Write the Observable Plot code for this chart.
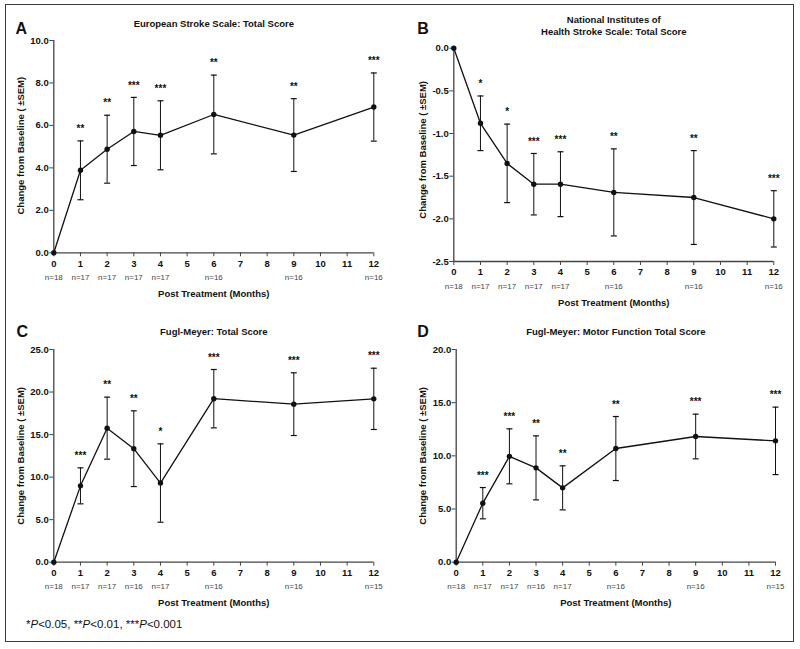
<!DOCTYPE html>
<html><head><meta charset="utf-8">
<script src="https://cdn.jsdelivr.net/npm/d3@7"></script>
<script src="https://cdn.jsdelivr.net/npm/@observablehq/plot@0.6"></script>
<style>
body{margin:0;background:#fff;}
#wrap{position:relative;width:800px;height:649px;overflow:hidden;background:#fff;font-family:"Liberation Sans",Arial,Helvetica,sans-serif;}
#frame{position:absolute;left:5px;top:4px;width:786.5px;height:636px;border:1.5px solid #3c3c3c;pointer-events:none;z-index:5;}
#note{position:absolute;left:26px;top:619.3px;font-size:11.5px;line-height:1;color:#111;z-index:6;white-space:nowrap;}
</style></head>
<body>
<div id="wrap"><div id="frame"></div><div id="note">*<i>P</i>&lt;0.05, **<i>P</i>&lt;0.01, ***<i>P</i>&lt;0.001</div></div>
<script>
// ---- data ----
const months = [0, 1, 2, 3, 4, 6, 9, 12];
const xTicks = [0, 1, 2, 3, 4, 5, 6, 7, 8, 9, 10, 11, 12];

const essTitle = "European Stroke Scale: Total Score";
const essMean = [0, 3.885, 4.88, 5.715, 5.535, 6.515, 5.545, 6.865];
const essSem = [0, 1.385, 1.60, 1.605, 1.625, 1.855, 1.715, 1.605];
const essStars = ["", "**", "**", "***", "***", "**", "**", "***"];
const essN = [18, 17, 17, 17, 17, 16, 16, 16];
const essTicks = [0, 2, 4, 6, 8, 10];

const nihTitle = "National Institutes of\nHealth Stroke Scale: Total Score";
const nihMean = [0, -0.88, -1.35, -1.594, -1.594, -1.69, -1.75, -2.0];
const nihSem = [0, 0.32, 0.46, 0.36, 0.38, 0.51, 0.55, 0.33];
const nihStars = ["", "*", "*", "***", "***", "**", "**", "***"];
const nihN = [18, 17, 17, 17, 17, 16, 16, 16];
const nihTicks = [0, -0.5, -1, -1.5, -2, -2.5];

const fmTitle = "Fugl-Meyer: Total Score";
const fmMean = [0, 8.975, 15.755, 13.34, 9.305, 19.22, 18.575, 19.2];
const fmSem = [0, 2.115, 3.645, 4.45, 4.605, 3.43, 3.685, 3.6];
const fmStars = ["", "***", "**", "**", "*", "***", "***", "***"];
const fmN = [18, 17, 17, 16, 17, 16, 16, 15];
const fmTicks = [0, 5, 10, 15, 20, 25];

const fmmTitle = "Fugl-Meyer: Motor Function Total Score";
const fmmMean = [0, 5.55, 9.955, 8.87, 6.99, 10.69, 11.82, 11.41];
const fmmSem = [0, 1.47, 2.585, 3.01, 2.07, 3.01, 2.1, 3.17];
const fmmStars = ["", "***", "***", "**", "**", "**", "***", "***"];
const fmmN = [18, 17, 17, 16, 17, 16, 16, 15];
const fmmTicks = [0, 5, 10, 15, 20];

const yLabel = "Change from Baseline ( \u00B1SEM)";
const xLabel = "Post Treatment (Months)";

// ---- drawing ----
const FONT = '"Liberation Sans", Arial, Helvetica, sans-serif';
const INK = "#111";
const cap = {draw(ctx, size) { const r = Math.sqrt(size / Math.PI); ctx.moveTo(-r, 0); ctx.lineTo(r, 0); }};

function panel(o) {
  const data = months.map((m, i) => ({
    m, v: o.mean[i],
    lo: o.mean[i] - o.sem[i], hi: o.mean[i] + o.sem[i],
    star: o.stars[i], n: "n=" + o.n[i]
  }));
  const bars = data.filter(d => d.m > 0);
  const svg = Plot.plot({
    width: o.w, height: o.h,
    marginLeft: o.mL, marginRight: o.mR, marginTop: o.mT, marginBottom: o.mB,
    x: {domain: [0, 12]},
    y: {domain: o.yDomain},
    style: {background: "transparent", fontFamily: FONT, color: INK, overflow: "visible"},
    marks: [
      Plot.axisX({ticks: xTicks, tickSize: 4, tickPadding: 3, fontSize: 9.5, fontWeight: "bold", stroke: "#444", fill: INK, label: null}),
      Plot.axisY({ticks: o.yTicks, tickSize: 4, tickPadding: 1, tickFormat: d => d.toFixed(1), fontSize: 9.5, fontWeight: "bold", stroke: "#444", fill: INK, label: null}),
      Plot.ruleY([o.yDomain[0]], {stroke: "#444", strokeWidth: 1.3}),
      Plot.ruleX([0], {stroke: "#444", strokeWidth: 1.3}),
      Plot.ruleX(bars, {x: "m", y1: "lo", y2: "hi", stroke: INK, strokeWidth: 1}),
      Plot.dot(bars, {x: "m", y: "hi", symbol: cap, r: 3, fill: "none", stroke: INK, strokeWidth: 1.2}),
      Plot.dot(bars, {x: "m", y: "lo", symbol: cap, r: 3, fill: "none", stroke: INK, strokeWidth: 1.2}),
      Plot.line(data, {x: "m", y: "v", stroke: INK, strokeWidth: 1.3}),
      Plot.dot(data, {x: "m", y: "v", r: 2.7, fill: INK, stroke: "none"}),
      Plot.text(bars, {x: "m", y: "hi", text: "star", dy: -12, fontSize: 10, fontWeight: "bold", fill: INK}),
      Plot.text(data, {x: "m", text: "n", frameAnchor: "bottom", lineAnchor: "bottom", dy: 27, fontSize: 8, fill: "#444"}),
      Plot.text([xLabel], {frameAnchor: "bottom", lineAnchor: "bottom", dy: 44, fontSize: 9.5, fontWeight: "bold", fill: INK}),
      Plot.text([yLabel], {frameAnchor: "left", rotate: -90, textAnchor: "middle", lineAnchor: "bottom", dx: o.yLabX - o.mL, dy: o.yLabShift, fontSize: 9.5, fontWeight: "bold", fill: INK}),
      Plot.text([o.title], {frameAnchor: "top", lineAnchor: "bottom", lineHeight: 1.26, dy: o.titleDy, fontSize: 9.5, fontWeight: "bold", fill: INK}),
      Plot.text([o.letter], {frameAnchor: "top-left", textAnchor: "start", lineAnchor: "bottom", dx: o.letX - o.mL, dy: o.letDy, fontSize: 16, fontWeight: "bold", fill: INK})
    ]
  });
  svg.style.position = "absolute";
  svg.style.left = o.left + "px";
  svg.style.top = o.top + "px";
  document.getElementById("wrap").appendChild(svg);
}

panel({letter: "A", title: essTitle, mean: essMean, sem: essSem, stars: essStars, n: essN,
  yDomain: [0, 10], yTicks: essTicks, left: 0, top: 0, w: 400, h: 310,
  mL: 53.3, mR: 26.7, mT: 40, mB: 57.7, yLabX: 23, yLabShift: -1, titleDy: -13.5, letX: 15, letDy: -6.5});
panel({letter: "B", title: nihTitle, mean: nihMean, sem: nihSem, stars: nihStars, n: nihN,
  yDomain: [-2.5, 0], yTicks: nihTicks, left: 400, top: 0, w: 400, h: 310,
  mL: 53.3, mR: 26.7, mT: 47.7, mB: 49, yLabX: 25.5, yLabShift: -5, titleDy: -13.4, letX: 16.7, letDy: -14.4});
panel({letter: "C", title: fmTitle, mean: fmMean, sem: fmSem, stars: fmStars, n: fmN,
  yDomain: [0, 25], yTicks: fmTicks, left: 0, top: 310, w: 400, h: 339,
  mL: 53.3, mR: 26.7, mT: 39, mB: 87.3, yLabX: 23, yLabShift: 0, titleDy: -15, letX: 16, letDy: -12.3});
panel({letter: "D", title: fmmTitle, mean: fmmMean, sem: fmmSem, stars: fmmStars, n: fmmN,
  yDomain: [0, 20], yTicks: fmmTicks, left: 400, top: 310, w: 400, h: 339,
  mL: 55.7, mR: 25, mT: 39, mB: 87.3, yLabX: 25.5, yLabShift: 0, titleDy: -15, letX: 16.7, letDy: -12.3});
</script>
</body></html>
